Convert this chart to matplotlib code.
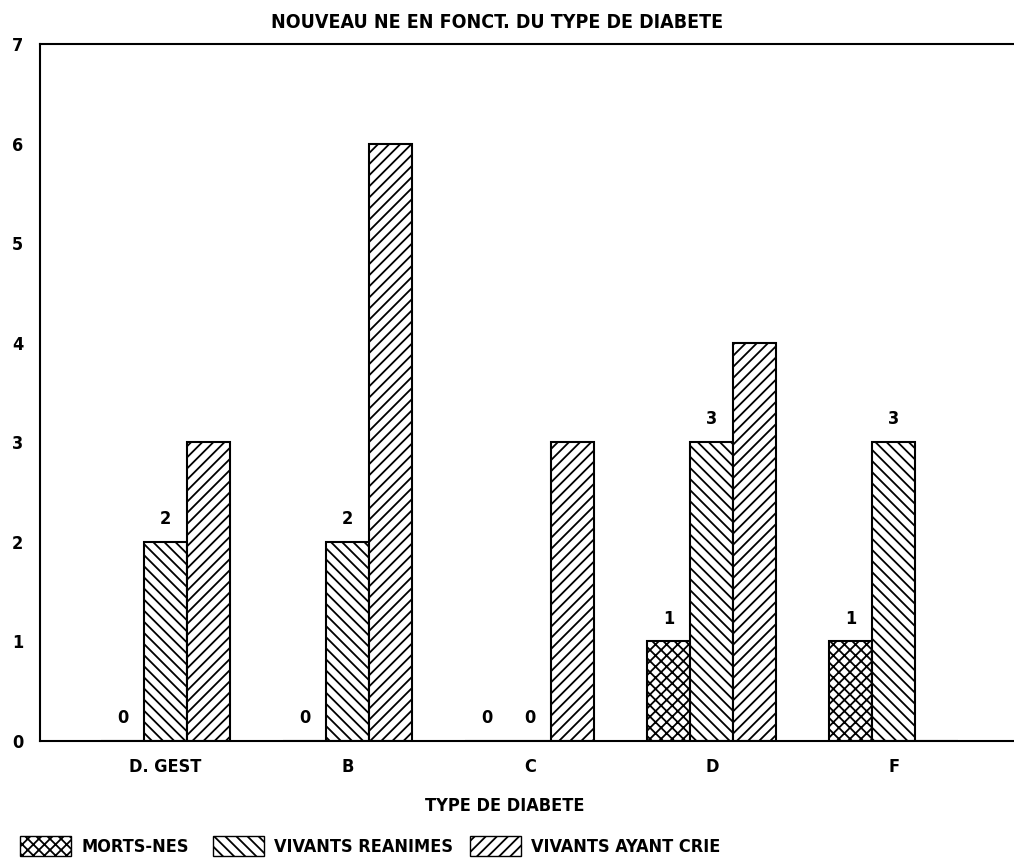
import numpy as np
import matplotlib.pyplot as plt
from matplotlib.patches import Patch

plt.rcParams['font.family'] = ['DejaVu Sans']
plt.rcParams['font.stretch'] = 'condensed'
plt.rcParams['font.weight'] = 'bold'
plt.rcParams['hatch.linewidth'] = 1.3

# data
categories = ["D. GEST", "B", "C", "D", "F"]
morts_nes = [0, 0, 0, 1, 1]
vivants_reanimes = [2, 2, 0, 3, 3]
vivants_ayant_crie = [3, 6, 3, 4, 0]
series_names = ["MORTS-NES", "VIVANTS REANIMES", "VIVANTS AYANT CRIE"]
hatches = ['xxx', '\\\\\\', '///']

x = np.arange(len(categories))
w = 0.236

fig = plt.figure(figsize=(10.14, 8.59), dpi=100)
ax = fig.add_axes([0.0394, 0.1374, 0.9606, 0.8114])

b1 = ax.bar(x - w, morts_nes, w, color='white', edgecolor='black', hatch=hatches[0], linewidth=1.5)
b2 = ax.bar(x, vivants_reanimes, w, color='white', edgecolor='black', hatch=hatches[1], linewidth=1.5)
b3 = ax.bar(x + w, vivants_ayant_crie, w, color='white', edgecolor='black', hatch=hatches[2], linewidth=1.5)

# value labels only on the first two series
ax.bar_label(b1, padding=10, fontsize=13, fontweight='bold')
ax.bar_label(b2, padding=10, fontsize=13, fontweight='bold')

ax.set_xlim(-0.69, 4.66)
ax.set_ylim(0, 7)
ax.set_yticks(range(8))
ax.set_xticks(x)
ax.set_xticklabels(categories)
ax.tick_params(length=0, labelsize=13)
ax.tick_params(axis='y', pad=12)
ax.tick_params(axis='x', pad=12)
for lab in ax.get_xticklabels() + ax.get_yticklabels():
    lab.set_fontweight('bold')

ax.spines['right'].set_visible(False)
for s in ['left', 'top', 'bottom']:
    ax.spines[s].set_linewidth(1.5)

fig.text(0.49, 0.974, "NOUVEAU NE EN FONCT. DU TYPE DE DIABETE",
         ha='center', va='center', fontsize=14, fontweight='bold')
fig.text(0.498, 0.062, "TYPE DE DIABETE", ha='center', va='center',
         fontsize=13, fontweight='bold')

# legend entries placed one by one, like the original
leg_x = [20 / 1014, 213 / 1014, 470 / 1014]
for h, name, lx in zip(hatches, series_names, leg_x):
    patch = Patch(facecolor='white', edgecolor='black', hatch=h, linewidth=1)
    fig.legend([patch], [name], loc='center left', bbox_to_anchor=(lx, 0.015),
               frameon=False, handlelength=2.8, handleheight=1.3,
               handletextpad=0.6, borderpad=0, borderaxespad=0,
               prop={'size': 13, 'weight': 'bold'})

fig.savefig("out.png", dpi=100)
